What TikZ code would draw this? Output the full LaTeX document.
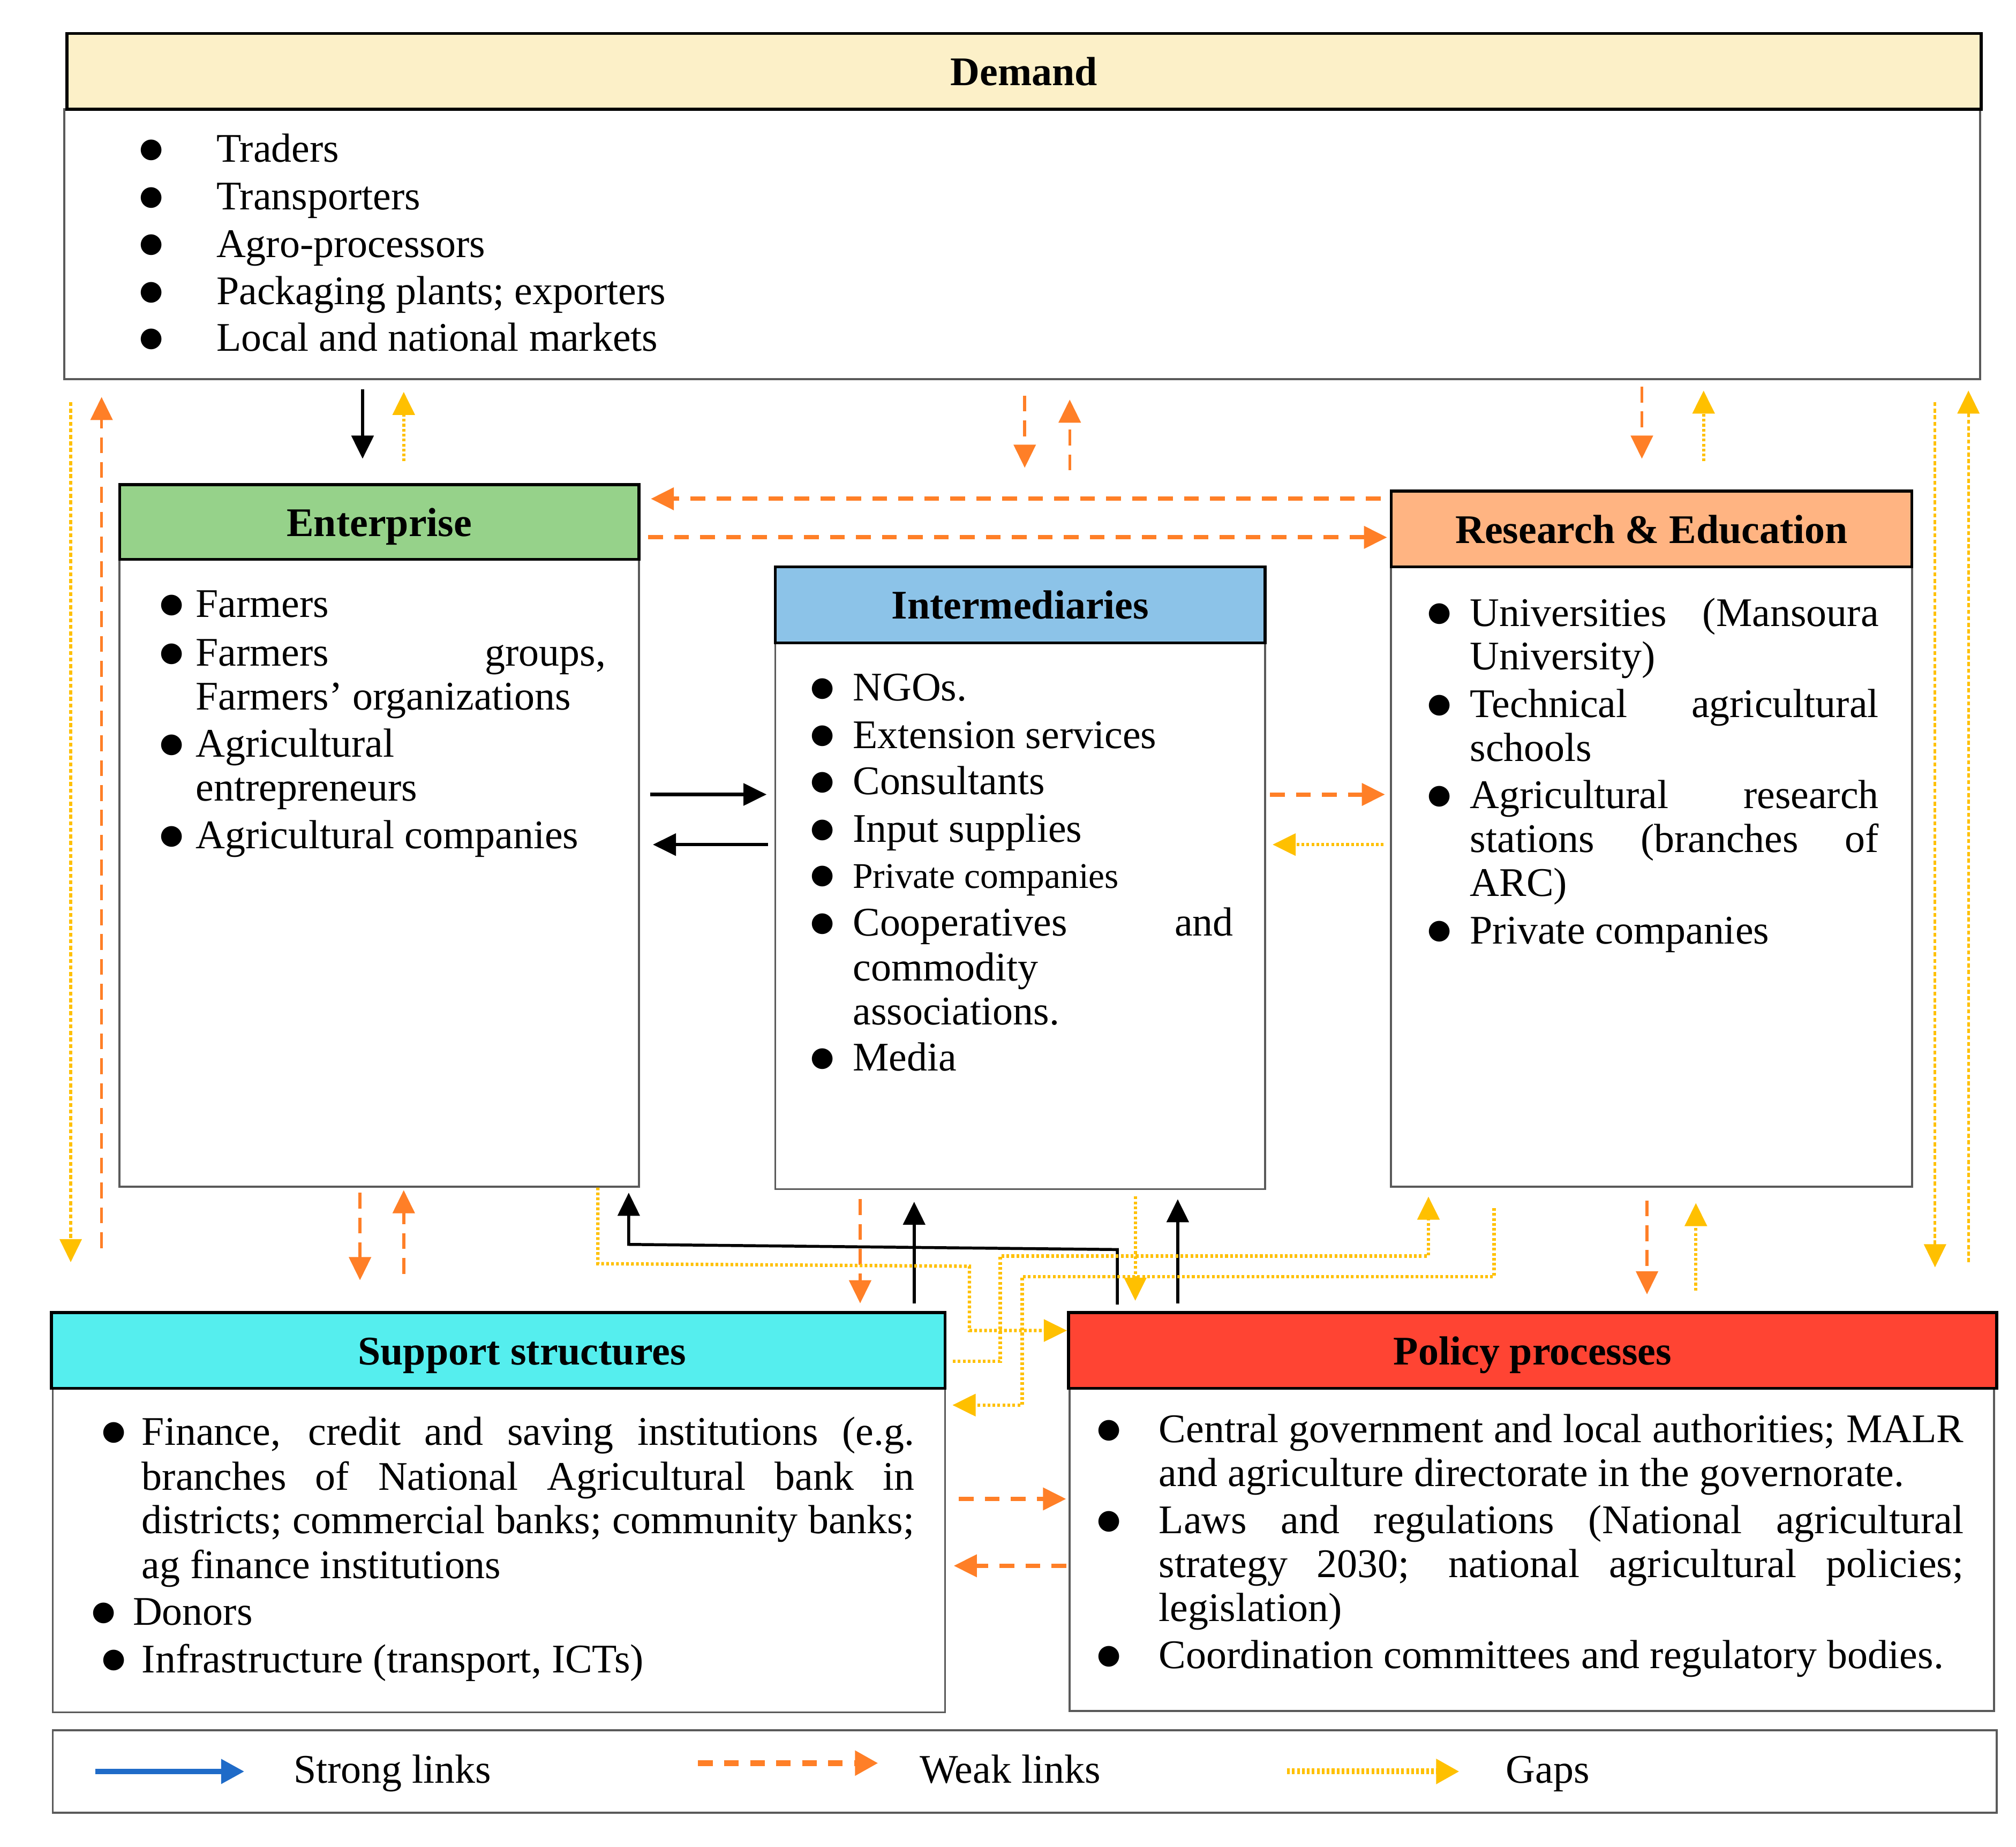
\documentclass[tikz,border=0pt]{standalone}
\usepackage{fontspec}
\setmainfont{Liberation Serif}
\newfontfamily\bulfont{DejaVu Sans}
\usetikzlibrary{arrows.meta,fit}
\definecolor{demY}{HTML}{FCF0C8}
\definecolor{entG}{HTML}{96D28A}
\definecolor{intB}{HTML}{8CC3E8}
\definecolor{resO}{HTML}{FFB482}
\definecolor{supC}{HTML}{55EEEE}
\definecolor{polR}{HTML}{FF4433}
\definecolor{weakO}{HTML}{FF7F27}
\definecolor{gapY}{HTML}{FFC000}
\definecolor{strB}{HTML}{1F6BC8}
\definecolor{boxG}{HTML}{5A5A5A}
\newcommand\bu[1]{\makebox[#1][l]{\raisebox{2.2pt}{\bulfont\fontsize{12pt}{12pt}\selectfont ●}}}
\newcommand\jl[2]{\makebox[#1][s]{#2}}
\begin{document}
\begin{tikzpicture}[x=0.02cm,y=-0.02cm,
  hdr/.style={draw=black, line width=1.3pt, inner sep=0pt},
  htxt/.style={anchor=base, inner sep=0pt, font=\fontsize{18pt}{21pt}\selectfont\bfseries},
  bodybox/.style={draw=boxG, line width=0.9pt, inner sep=0pt, fill=white},
  txt/.style={anchor=base west, inner sep=0pt, font=\fontsize{18pt}{21pt}\selectfont},
  txtsm/.style={anchor=base west, inner sep=0pt, font=\fontsize{16pt}{19pt}\selectfont},
  strong/.style={draw=black, line width=1.5pt, -{Triangle[length=0.36cm,width=0.34cm]}},
  weak/.style={draw=weakO, line width=1.9pt, dash pattern=on 6.5pt off 5pt, -{Triangle[length=0.36cm,width=0.34cm]}},
  weakthin/.style={draw=weakO, line width=1.3pt, dash pattern=on 7pt off 4pt, -{Triangle[length=0.36cm,width=0.34cm]}},
  gap/.style={draw=gapY, line width=1.5pt, dash pattern=on 1.2pt off 1pt, -{Triangle[length=0.36cm,width=0.34cm]}},
  gapthin/.style={draw=gapY, line width=1.2pt, dash pattern=on 1.8pt off 1.1pt, -{Triangle[length=0.36cm,width=0.34cm]}},
  legstrong/.style={draw=strB, line width=2.2pt, -{Triangle[length=0.36cm,width=0.37cm]}},
  legweak/.style={draw=weakO, line width=2.6pt, dash pattern=on 6.5pt off 5pt, -{Triangle[length=0.36cm,width=0.37cm]}},
  leggap/.style={draw=gapY, line width=2.6pt, dash pattern=on 1.2pt off 1pt, -{Triangle[length=0.36cm,width=0.37cm]}}
]
\useasboundingbox (0,0) rectangle (1568,1436.5);

% ---------- boxes ----------
\node[bodybox, fit={(50,85) (1540,295)}] (demb) {};
\node[hdr, fill=demY, fit={(52,26) (1541,85)}] (demh) {};
\node[htxt] (demt) at ([yshift=-0.22cm]demh.center) {Demand};

\node[bodybox, fit={(93,435) (497,923)}] (entb) {};
\node[hdr, fill=entG, fit={(93,377) (497,435)}] (enth) {};
\node[htxt] (entt) at ([yshift=-0.22cm]enth.center) {Enterprise};

\node[bodybox, fit={(603,500) (984,925)}] (intb) {};
\node[hdr, fill=intB, fit={(603,441) (984,500)}] (inth) {};
\node[htxt] (intt) at ([yshift=-0.22cm]inth.center) {Intermediaries};

\node[bodybox, fit={(1082,441) (1487,923)}] (resb) {};
\node[hdr, fill=resO, fit={(1082,382) (1487,441)}] (resh) {};
\node[htxt] (rest) at ([yshift=-0.22cm]resh.center) {Research \& Education};

\node[bodybox, fit={(41,1080) (735,1332)}] (supb) {};
\node[hdr, fill=supC, fit={(40,1021) (735,1080)}] (suph) {};
\node[htxt] (supt) at ([xshift=0.37cm,yshift=-0.22cm]suph.center) {Support structures};

\node[bodybox, fit={(832,1080) (1551,1331)}] (polb) {};
\node[hdr, fill=polR, fit={(831,1021) (1553,1080)}] (polh) {};
\node[htxt] (polt) at ([yshift=-0.22cm]polh.center) {Policy processes};

\node[bodybox, fit={(41,1346) (1553,1410)}] (leg) {};

% ---------- texts ----------
\node[txt] (d1) at (108,126) {\bu{1.2cm}Traders};
\node[txt] (d2) at (108,163) {\bu{1.2cm}Transporters};
\node[txt] (d3) at (108,200) {\bu{1.2cm}Agro-processors};
\node[txt] (d4) at (108,237) {\bu{1.2cm}Packaging plants; exporters};
\node[txt] (d5) at (108,273) {\bu{1.2cm}Local and national markets};

\node[txt] (e1) at (124,480) {\bu{0.56cm}Farmers};
\node[txt] (e2) at (124,518) {\bu{0.56cm}\jl{6.38cm}{Farmers groups,}};
\node[txt] (e3) at (152,552) {Farmers’ organizations};
\node[txt] (e4) at (124,589) {\bu{0.56cm}Agricultural};
\node[txt] (e5) at (152,623) {entrepreneurs};
\node[txt] (e6) at (124,660) {\bu{0.56cm}Agricultural companies};

\node[txt] (i1) at (630,545) {\bu{0.66cm}NGOs.};
\node[txt] (i2) at (630,582) {\bu{0.66cm}Extension services};
\node[txt] (i3) at (630,618) {\bu{0.66cm}Consultants};
\node[txt] (i4) at (630,655) {\bu{0.66cm}Input supplies};
\node[txtsm] (i5) at (630,691) {\bu{0.66cm}Private companies};
\node[txt] (i6) at (630,728) {\bu{0.66cm}\jl{5.92cm}{Cooperatives and}};
\node[txt] (i7) at (663,763) {commodity};
\node[txt] (i8) at (663,797) {associations.};
\node[txt] (i9) at (630,833) {\bu{0.66cm}Media};

\node[txt] (r1) at (1110,487) {\bu{0.66cm}\jl{6.36cm}{Universities (Mansoura}};
\node[txt] (r2) at (1143,521) {University)};
\node[txt] (r3) at (1110,558) {\bu{0.66cm}\jl{6.36cm}{Technical agricultural}};
\node[txt] (r4) at (1143,592) {schools};
\node[txt] (r5) at (1110,629) {\bu{0.66cm}\jl{6.36cm}{Agricultural research}};
\node[txt] (r6) at (1143,663) {\jl{6.36cm}{stations (branches of}};
\node[txt] (r7) at (1143,697) {ARC)};
\node[txt] (r8) at (1110,734) {\bu{0.66cm}Private companies};

\node[txt] (s1) at (79,1124) {\bu{0.62cm}\jl{12.02cm}{Finance, credit and saving institutions (e.g.}};
\node[txt] (s2) at (110,1159) {\jl{12.02cm}{branches of National Agricultural bank in}};
\node[txt] (s3) at (110,1193) {\jl{12.02cm}{districts; commercial banks; community banks;}};
\node[txt] (s4) at (110,1228) {ag finance institutions};
\node[txt] (s5) at (71,1264) {\bu{0.64cm}Donors};
\node[txt] (s6) at (79,1301) {\bu{0.62cm}Infrastructure (transport, ICTs)};

\node[txt] (p1) at (853,1122) {\bu{0.96cm}\jl{12.52cm}{Central government and local authorities; MALR}};
\node[txt] (p2) at (901,1156) {and agriculture directorate in the governorate.};
\node[txt] (p3) at (853,1193) {\bu{0.96cm}\jl{12.52cm}{Laws and regulations (National agricultural}};
\node[txt] (p4) at (901,1227) {\jl{12.52cm}{strategy 2030; national agricultural policies;}};
\node[txt] (p5) at (901,1261) {legislation)};
\node[txt] (p6) at (853,1298) {\bu{0.96cm}Coordination committees and regulatory bodies.};

% ---------- helper coordinates ----------
\foreach \c in {55,79,280,282,314,465,489,669,711,754,778,795,797,832,869,883,916,1111,1162,1277,1281,1319,1325,1505,1531}
  {\coordinate (c\c) at (\c,0);}
\foreach \r in {388,418,618,657,968,972,977,983,985,993,1035,1059,1093,1166,1218}
  {\coordinate (r\r) at (0,\r);}

% ---------- connectors ----------
\draw[strong, shorten <=0.14cm, shorten >=0.38cm] (demb.south -| c282) -- (enth.north -| c282);
\draw[gap, shorten <=0.34cm, shorten >=0.18cm] (enth.north -| c314) -- (demb.south -| c314);
\draw[gapthin, shorten <=0.34cm, shorten >=0.76cm] (demb.south -| c55) -- (suph.north -| c55);
\draw[weakthin, shorten <=0.98cm, shorten >=0.26cm] (suph.north -| c79) -- (demb.south -| c79);
\draw[weakthin, shorten <=0.24cm, shorten >=1.52cm] (demb.south -| c797) -- (inth.north -| c797);
\draw[weakthin, shorten <=1.48cm, shorten >=0.30cm] (inth.north -| c832) -- (demb.south -| c832);
\draw[weakthin, shorten <=0.10cm, shorten >=0.48cm] (demb.south -| c1277) -- (resh.north -| c1277);
\draw[gap, shorten <=0.44cm, shorten >=0.16cm] (resh.north -| c1325) -- (demb.south -| c1325);
\draw[gapthin, shorten <=0.34cm, shorten >=0.68cm] (demb.south -| c1505) -- (polh.north -| c1505);
\draw[gapthin, shorten <=0.76cm, shorten >=0.16cm] (polh.north -| c1531) -- (demb.south -| c1531);

\draw[weak, shorten <=0.14cm, shorten >=0.16cm] (resh.west |- r388) -- (enth.east |- r388);
\draw[weak, shorten <=0.12cm, shorten >=0.04cm] (enth.east |- r418) -- (resh.west |- r418);
\draw[strong, shorten <=0.16cm, shorten >=0.12cm] (entb.east |- r618) -- (intb.west |- r618);
\draw[strong, shorten <=0.10cm, shorten >=0.20cm] (intb.west |- r657) -- (entb.east |- r657);
\draw[weak, shorten <=0.06cm, shorten >=0.08cm] (intb.east |- r618) -- (resb.west |- r618);
\draw[gap, shorten <=0.10cm, shorten >=0.10cm] (resb.west |- r657) -- (intb.east |- r657);

\draw[weakthin, shorten <=0.08cm, shorten >=0.48cm] (entb.south -| c280) -- (suph.north -| c280);
\draw[weakthin, shorten <=0.58cm, shorten >=0.04cm] (suph.north -| c314) -- (entb.south -| c314);
\draw[weakthin, shorten <=0.14cm, shorten >=0.12cm] (intb.south -| c669) -- (suph.north -| c669);
\draw[strong, shorten <=0.12cm, shorten >=0.18cm] (suph.north -| c711) -- (intb.south -| c711);
\draw[gap, shorten <=0.10cm, shorten >=0.16cm] (intb.south -| c883) -- (polh.north -| c883);
\draw[strong, shorten <=0.12cm, shorten >=0.14cm] (polh.north -| c916) -- (intb.south -| c916);
\draw[weakthin, shorten <=0.20cm, shorten >=0.26cm] (resb.south -| c1281) -- (polh.north -| c1281);
\draw[gap, shorten <=0.32cm, shorten >=0.24cm] (polh.north -| c1319) -- (resb.south -| c1319);
\draw[weak, shorten <=0.20cm, shorten >=0.04cm] (supb.east |- r1166) -- (polb.west |- r1166);
\draw[weak, shorten <=0.04cm, shorten >=0.12cm] (polb.west |- r1218) -- (supb.east |- r1218);

\draw[strong, line width=1.3pt, shorten <=0.10cm, shorten >=0.08cm] (polh.north -| c869) -- (c869 |- r972) -- (c489 |- r968) -- (entb.south -| c489);
\draw[gap] (entb.south -| c465) -- (c465 |- r983) -- (c754 |- r985) -- (c754 |- r1035) -- (polh.west |- r1035);
\draw[gap, shorten <=0.10cm, shorten >=0.14cm] (suph.east |- r1059) -- (c778 |- r1059) -- (c778 |- r977) -- (c1111 |- r977) -- (resb.south -| c1111);
\draw[gap, shorten <=0.32cm, shorten >=0.10cm] (resb.south -| c1162) -- (c1162 |- r993) -- (c795 |- r993) -- (c795 |- r1093) -- (supb.east |- r1093);

% ---------- legend ----------
\coordinate (ls1) at (74,1378);
\coordinate (ls2) at (190,1378);
\draw[legstrong] (ls1) -- (ls2);
\node[txt] (lst) at (228,1387) {Strong links};
\coordinate (lw1) at (543,1371.5);
\coordinate (lw2) at (683,1371.5);
\draw[legweak] (lw1) -- (lw2);
\node[txt] (lwt) at (715,1387) {Weak links};
\coordinate (lg1) at (1001,1378);
\coordinate (lg2) at (1135,1378);
\draw[leggap] (lg1) -- (lg2);
\node[txt] (lgt) at (1171,1387) {Gaps};
\end{tikzpicture}
\end{document}
